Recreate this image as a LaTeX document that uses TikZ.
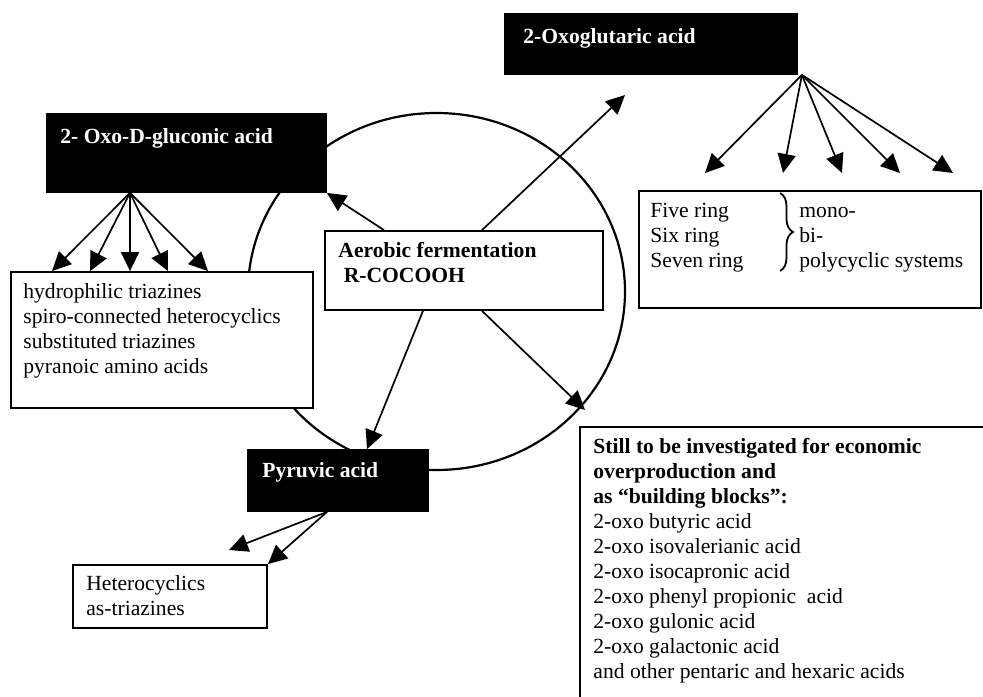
\documentclass[tikz,border=0pt]{standalone}
\usepackage{fontspec}
\setmainfont{Liberation Serif}
\usetikzlibrary{arrows.meta,shapes.geometric,decorations.pathreplacing}

\newcommand{\labelsize}{\fontsize{10.8}{12.5}\selectfont}
\newcommand{\boxlines}[1]{\begin{tabular}[t]{@{}l@{}}#1\end{tabular}}

\begin{document}
\begin{tikzpicture}
        [x=0.5pt,y=-0.5pt,
         every node/.style={inner sep=0pt,font=\labelsize},
         blackbox/.style={draw,fill=black,line width=0.9pt},
         whitebox/.style={draw,fill=white,line width=0.9pt},
         txt/.style={anchor=base west},
         acidname/.style={anchor=base west,text=white,font=\labelsize\bfseries},
         arr/.style={-{Triangle[length=9.5pt,width=9pt]},line width=0.85pt}]

        \useasboundingbox (0,0) rectangle (983,696);
        \clip (0,0) rectangle (983,696);

        \node[draw,ellipse,line width=1.1pt,minimum width=188.5pt,minimum height=178.5pt] (cyc) at (436.5,291.5) {};

        \node[blackbox,minimum width=139.5pt,minimum height=39pt] (gluc) at (186.5,153) {};
        \node[blackbox,minimum width=146pt,minimum height=30pt] (oxog) at (651,44) {};
        \node[blackbox,minimum width=90pt,minimum height=30.5pt] (pyr) at (338,480.5) {};
        \node[whitebox,minimum width=151pt,minimum height=68pt] (tri) at (162,340) {};
        \node[whitebox,minimum width=139pt,minimum height=39.5pt] (aer) at (464,270.5) {};
        \node[whitebox,minimum width=97pt,minimum height=31.5pt] (het) at (170,596.5) {};
        \node[whitebox,minimum width=171pt,minimum height=58.5pt] (ring) at (810,249.5) {};
        \node[whitebox,minimum width=205pt,minimum height=139pt] (still) at (785,566) {};

        \node[acidname] (glucname) at (60,143) {2- Oxo-D-gluconic acid};
        \node[acidname] (oxogname) at (523,43) {2-Oxoglutaric acid};
        \node[acidname] (pyrname) at (262,477) {Pyruvic acid};
        \node[txt,font=\labelsize\bfseries] (aername) at (338,257)
          {\boxlines{Aerobic fermentation\\\ R-COCOOH}};
        \node[txt] (trilist) at (23,298)
          {\boxlines{hydrophilic triazines\\spiro-connected heterocyclics\\substituted triazines\\pyranoic amino acids}};
        \node[txt] (hetlist) at (86,590) {\boxlines{Heterocyclics\\as-triazines}};
        \node[txt] (ringlist) at (650,217) {\boxlines{Five ring\\Six ring\\Seven ring}};
        \node[txt] (cyclist) at (799,217) {\boxlines{mono-\\bi-\\polycyclic systems}};
        \node[txt] (stilllist) at (593,453)
          {\boxlines{\textbf{Still to be investigated for economic}\\\textbf{overproduction and}\\\textbf{as “building blocks”:}\\
            2-oxo butyric acid\\2-oxo isovalerianic acid\\2-oxo isocapronic acid\\2-oxo phenyl propionic~ acid\\
            2-oxo gulonic acid\\2-oxo galactonic acid\\and other pentaric and hexaric acids}};

        % brace between rings and systems
        \coordinate (brtop) at (780,193);
        \coordinate (brbot) at (780,271);
        \draw[decorate,decoration={brace,amplitude=6.5pt},line width=0.9pt] (brtop) -- (brbot);

        % free arrow ends
        \coordinate (oxogtip) at (625,95);
        \coordinate (stilltip) at (585,410);
        \coordinate (hettip) at (229,550);
        \foreach \x [count=\i] in {705,783,842,900,953}
          \coordinate (ot\i) at (\x,173);

        \draw[arr] ([xshift=-40pt]aer.north) -- (gluc.south east);
        \draw[arr] ([xshift=9pt]aer.north) -- (oxogtip);
        \draw[arr] ([xshift=-20.5pt]aer.south) -- ([xshift=14.5pt]pyr.north);
        \draw[arr] ([xshift=9pt]aer.south) -- (stilltip);

        \foreach \dx in {-55,-36,-16,3,23}
          \draw[arr] ([xshift=-28.25pt]gluc.south) -- ([xshift=\dx pt]tri.north);
        \foreach \i in {1,...,5}
          \draw[arr] ([xshift=2pt]oxog.south east) -- (ot\i);

        \draw[arr] ([xshift=-5.5pt]pyr.south) -- (hettip);
        \draw[arr] ([xshift=-5.5pt]pyr.south) -- (het.north east);
      \end{tikzpicture}
\end{document}
